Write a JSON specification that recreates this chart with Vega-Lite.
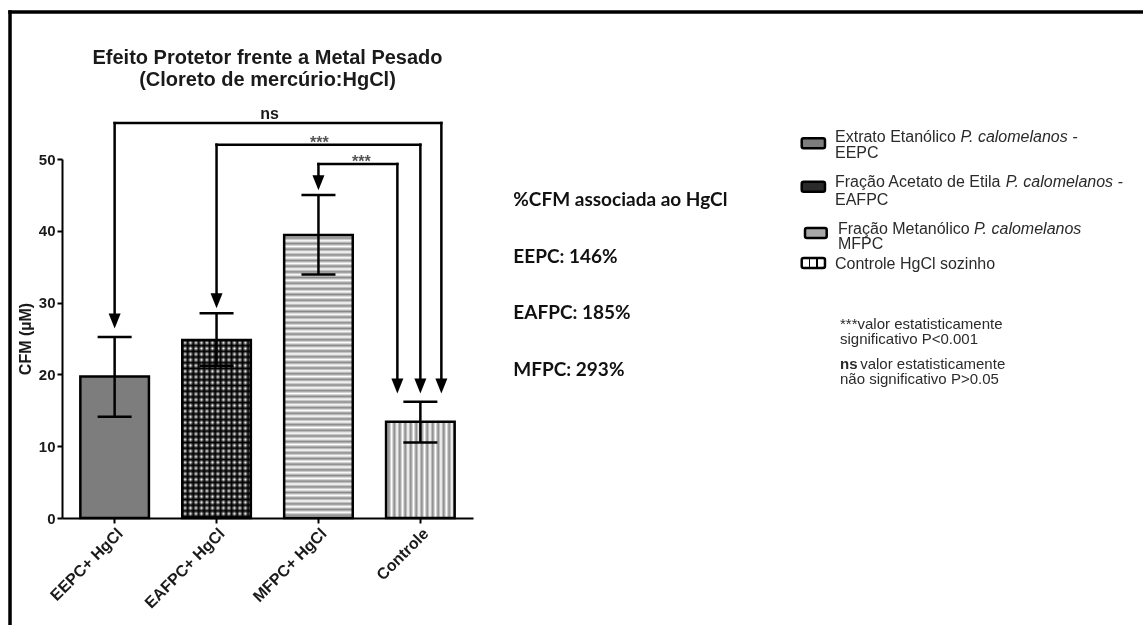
{
"$schema":"https://vega.github.io/schema/vega-lite/v6.json",
"width":411,"height":359,
"autosize":{"type":"none"},
"padding":{"left":62,"top":159,"right":670,"bottom":107},
"background":"white",
"datasets":{
 "bars":[
  {"group":"EEPC+ HgCl","mean":19.7,"lo":14.1,"hi":25.2},
  {"group":"EAFPC+ HgCl","mean":24.8,"lo":21.2,"hi":28.5},
  {"group":"MFPC+ HgCl","mean":39.4,"lo":33.9,"hi":45.0},
  {"group":"Controle","mean":13.4,"lo":10.5,"hi":16.2}
 ],
 "brackets":[
  {"cmp":"ns","label":"ns","from":"EEPC+ HgCl","to":"Controle","labelAt":"EAFPC+ HgCl","level":55.0,"fromArrow":27.45,"toArrow":18.4,"slot":"right"},
  {"cmp":"a","label":"***","from":"EAFPC+ HgCl","to":"Controle","labelAt":"MFPC+ HgCl","level":52.0,"fromArrow":30.25,"toArrow":18.4,"slot":"center"},
  {"cmp":"b","label":"***","from":"MFPC+ HgCl","to":"Controle","labelAt":"MFPC+ HgCl","level":49.3,"fromArrow":46.7,"toArrow":18.4,"slot":"left"}
 ]
},
"layer":[
 {"layer":[
  {"data":{"name":"bars"},"transform":[{"filter":"datum.group === 'EEPC+ HgCl'"}],
   "mark":{"type":"bar","fill":"#7d7d7d","stroke":"black","strokeWidth":2.5},
   "encoding":{
    "x":{"field":"group","type":"nominal","scale":{"domain":["EEPC+ HgCl","EAFPC+ HgCl","MFPC+ HgCl","Controle"]},"title":null,
         "axis":{"title":null,"labelAngle":-45,"labelFont":"Liberation Sans","labelFontSize":16,"labelFontWeight":"bold","labelColor":"#1a1a1a","tickSize":5,"tickWidth":2,"tickColor":"black","domainColor":"black","domainWidth":2,"labelPadding":2}},
    "y":{"field":"mean","type":"quantitative","scale":{"domain":[0,50],"nice":false},"title":"CFM (µM)",
         "axis":{"title":"CFM (µM)","values":[0,10,20,30,40,50],"titleFont":"Liberation Sans","titleFontSize":16,"titleFontWeight":"bold","titleColor":"#1a1a1a","titlePadding":5,"labelFont":"Liberation Sans","labelFontSize":15,"labelFontWeight":"bold","labelColor":"#1a1a1a","tickSize":5,"tickWidth":2,"tickColor":"black","domainColor":"black","domainWidth":2,"labelPadding":2,"grid":false}}
   }},
  {"data":{"name":"bars"},"transform":[{"filter":"datum.group === 'EAFPC+ HgCl'"}],
   "mark":{"type":"bar","fill":{"gradient":"linear","x1":0,"y1":0,"x2":0,"y2":1,"stops":[{"offset":0,"color":"#000"},{"offset":0.016,"color":"#fff"},{"offset":0.032,"color":"#000"},{"offset":0.048,"color":"#fff"},{"offset":0.064,"color":"#000"},{"offset":0.08,"color":"#fff"},{"offset":0.096,"color":"#000"},{"offset":0.112,"color":"#fff"},{"offset":0.128,"color":"#000"},{"offset":0.144,"color":"#fff"},{"offset":0.16,"color":"#000"},{"offset":0.176,"color":"#fff"},{"offset":0.192,"color":"#000"},{"offset":0.208,"color":"#fff"},{"offset":0.224,"color":"#000"},{"offset":0.24,"color":"#fff"},{"offset":0.256,"color":"#000"},{"offset":0.272,"color":"#fff"},{"offset":0.288,"color":"#000"},{"offset":0.304,"color":"#fff"},{"offset":0.32,"color":"#000"},{"offset":0.336,"color":"#fff"},{"offset":0.352,"color":"#000"},{"offset":0.368,"color":"#fff"},{"offset":0.384,"color":"#000"},{"offset":0.4,"color":"#fff"},{"offset":0.416,"color":"#000"},{"offset":0.432,"color":"#fff"},{"offset":0.448,"color":"#000"},{"offset":0.464,"color":"#fff"},{"offset":0.48,"color":"#000"},{"offset":0.496,"color":"#fff"},{"offset":0.512,"color":"#000"},{"offset":0.528,"color":"#fff"},{"offset":0.544,"color":"#000"},{"offset":0.56,"color":"#fff"},{"offset":0.576,"color":"#000"},{"offset":0.592,"color":"#fff"},{"offset":0.608,"color":"#000"},{"offset":0.624,"color":"#fff"},{"offset":0.64,"color":"#000"},{"offset":0.656,"color":"#fff"},{"offset":0.672,"color":"#000"},{"offset":0.688,"color":"#fff"},{"offset":0.704,"color":"#000"},{"offset":0.72,"color":"#fff"},{"offset":0.736,"color":"#000"},{"offset":0.752,"color":"#fff"},{"offset":0.768,"color":"#000"},{"offset":0.784,"color":"#fff"},{"offset":0.8,"color":"#000"},{"offset":0.816,"color":"#fff"},{"offset":0.832,"color":"#000"},{"offset":0.848,"color":"#fff"},{"offset":0.864,"color":"#000"},{"offset":0.88,"color":"#fff"},{"offset":0.896,"color":"#000"},{"offset":0.912,"color":"#fff"},{"offset":0.928,"color":"#000"},{"offset":0.944,"color":"#fff"},{"offset":0.96,"color":"#000"},{"offset":0.976,"color":"#fff"},{"offset":0.992,"color":"#000"},{"offset":1,"color":"#fff"}]}},
   "encoding":{
    "x":{"field":"group","type":"nominal","scale":{"domain":["EEPC+ HgCl","EAFPC+ HgCl","MFPC+ HgCl","Controle"]},"title":null},
    "y":{"field":"mean","type":"quantitative","scale":{"domain":[0,50],"nice":false}}
   }},
  {"data":{"name":"bars"},"transform":[{"filter":"datum.group === 'EAFPC+ HgCl'"}],
   "mark":{"type":"bar","blend":"multiply","stroke":"black","strokeWidth":2.5,"fill":{"gradient":"linear","x1":0,"y1":0,"x2":1,"y2":0,"stops":[{"offset":0,"color":"#000"},{"offset":0.04,"color":"#fff"},{"offset":0.08,"color":"#000"},{"offset":0.12,"color":"#fff"},{"offset":0.16,"color":"#000"},{"offset":0.2,"color":"#fff"},{"offset":0.24,"color":"#000"},{"offset":0.28,"color":"#fff"},{"offset":0.32,"color":"#000"},{"offset":0.36,"color":"#fff"},{"offset":0.4,"color":"#000"},{"offset":0.44,"color":"#fff"},{"offset":0.48,"color":"#000"},{"offset":0.52,"color":"#fff"},{"offset":0.56,"color":"#000"},{"offset":0.6,"color":"#fff"},{"offset":0.64,"color":"#000"},{"offset":0.68,"color":"#fff"},{"offset":0.72,"color":"#000"},{"offset":0.76,"color":"#fff"},{"offset":0.8,"color":"#000"},{"offset":0.84,"color":"#fff"},{"offset":0.88,"color":"#000"},{"offset":0.92,"color":"#fff"},{"offset":0.96,"color":"#000"},{"offset":1,"color":"#fff"}]}},
   "encoding":{
    "x":{"field":"group","type":"nominal","scale":{"domain":["EEPC+ HgCl","EAFPC+ HgCl","MFPC+ HgCl","Controle"]},"title":null},
    "y":{"field":"mean","type":"quantitative","scale":{"domain":[0,50],"nice":false}}
   }},
  {"data":{"name":"bars"},"transform":[{"filter":"datum.group === 'MFPC+ HgCl'"}],
   "mark":{"type":"bar","stroke":"black","strokeWidth":2.5,"fill":{"gradient":"linear","x1":0,"y1":0,"x2":0,"y2":1,"stops":[{"offset":0,"color":"#fff"},{"offset":0.01,"color":"#888"},{"offset":0.02,"color":"#fff"},{"offset":0.03,"color":"#888"},{"offset":0.04,"color":"#fff"},{"offset":0.05,"color":"#888"},{"offset":0.06,"color":"#fff"},{"offset":0.07,"color":"#888"},{"offset":0.08,"color":"#fff"},{"offset":0.09,"color":"#888"},{"offset":0.1,"color":"#fff"},{"offset":0.11,"color":"#888"},{"offset":0.12,"color":"#fff"},{"offset":0.13,"color":"#888"},{"offset":0.14,"color":"#fff"},{"offset":0.15,"color":"#888"},{"offset":0.16,"color":"#fff"},{"offset":0.17,"color":"#888"},{"offset":0.18,"color":"#fff"},{"offset":0.19,"color":"#888"},{"offset":0.2,"color":"#fff"},{"offset":0.21,"color":"#888"},{"offset":0.22,"color":"#fff"},{"offset":0.23,"color":"#888"},{"offset":0.24,"color":"#fff"},{"offset":0.25,"color":"#888"},{"offset":0.26,"color":"#fff"},{"offset":0.27,"color":"#888"},{"offset":0.28,"color":"#fff"},{"offset":0.29,"color":"#888"},{"offset":0.3,"color":"#fff"},{"offset":0.31,"color":"#888"},{"offset":0.32,"color":"#fff"},{"offset":0.33,"color":"#888"},{"offset":0.34,"color":"#fff"},{"offset":0.35,"color":"#888"},{"offset":0.36,"color":"#fff"},{"offset":0.37,"color":"#888"},{"offset":0.38,"color":"#fff"},{"offset":0.39,"color":"#888"},{"offset":0.4,"color":"#fff"},{"offset":0.41,"color":"#888"},{"offset":0.42,"color":"#fff"},{"offset":0.43,"color":"#888"},{"offset":0.44,"color":"#fff"},{"offset":0.45,"color":"#888"},{"offset":0.46,"color":"#fff"},{"offset":0.47,"color":"#888"},{"offset":0.48,"color":"#fff"},{"offset":0.49,"color":"#888"},{"offset":0.5,"color":"#fff"},{"offset":0.51,"color":"#888"},{"offset":0.52,"color":"#fff"},{"offset":0.53,"color":"#888"},{"offset":0.54,"color":"#fff"},{"offset":0.55,"color":"#888"},{"offset":0.56,"color":"#fff"},{"offset":0.57,"color":"#888"},{"offset":0.58,"color":"#fff"},{"offset":0.59,"color":"#888"},{"offset":0.6,"color":"#fff"},{"offset":0.61,"color":"#888"},{"offset":0.62,"color":"#fff"},{"offset":0.63,"color":"#888"},{"offset":0.64,"color":"#fff"},{"offset":0.65,"color":"#888"},{"offset":0.66,"color":"#fff"},{"offset":0.67,"color":"#888"},{"offset":0.68,"color":"#fff"},{"offset":0.69,"color":"#888"},{"offset":0.7,"color":"#fff"},{"offset":0.71,"color":"#888"},{"offset":0.72,"color":"#fff"},{"offset":0.73,"color":"#888"},{"offset":0.74,"color":"#fff"},{"offset":0.75,"color":"#888"},{"offset":0.76,"color":"#fff"},{"offset":0.77,"color":"#888"},{"offset":0.78,"color":"#fff"},{"offset":0.79,"color":"#888"},{"offset":0.8,"color":"#fff"},{"offset":0.81,"color":"#888"},{"offset":0.82,"color":"#fff"},{"offset":0.83,"color":"#888"},{"offset":0.84,"color":"#fff"},{"offset":0.85,"color":"#888"},{"offset":0.86,"color":"#fff"},{"offset":0.87,"color":"#888"},{"offset":0.88,"color":"#fff"},{"offset":0.89,"color":"#888"},{"offset":0.9,"color":"#fff"},{"offset":0.91,"color":"#888"},{"offset":0.92,"color":"#fff"},{"offset":0.93,"color":"#888"},{"offset":0.94,"color":"#fff"},{"offset":0.95,"color":"#888"},{"offset":0.96,"color":"#fff"},{"offset":0.97,"color":"#888"},{"offset":0.98,"color":"#fff"},{"offset":0.99,"color":"#888"},{"offset":1,"color":"#fff"}]}},
   "encoding":{
    "x":{"field":"group","type":"nominal","scale":{"domain":["EEPC+ HgCl","EAFPC+ HgCl","MFPC+ HgCl","Controle"]},"title":null},
    "y":{"field":"mean","type":"quantitative","scale":{"domain":[0,50],"nice":false}}
   }},
  {"data":{"name":"bars"},"transform":[{"filter":"datum.group === 'Controle'"}],
   "mark":{"type":"bar","stroke":"black","strokeWidth":2.5,"fill":{"gradient":"linear","x1":0,"y1":0,"x2":1,"y2":0,"stops":[{"offset":0,"color":"#fff"},{"offset":0.04,"color":"#888"},{"offset":0.08,"color":"#fff"},{"offset":0.12,"color":"#888"},{"offset":0.16,"color":"#fff"},{"offset":0.2,"color":"#888"},{"offset":0.24,"color":"#fff"},{"offset":0.28,"color":"#888"},{"offset":0.32,"color":"#fff"},{"offset":0.36,"color":"#888"},{"offset":0.4,"color":"#fff"},{"offset":0.44,"color":"#888"},{"offset":0.48,"color":"#fff"},{"offset":0.52,"color":"#888"},{"offset":0.56,"color":"#fff"},{"offset":0.6,"color":"#888"},{"offset":0.64,"color":"#fff"},{"offset":0.68,"color":"#888"},{"offset":0.72,"color":"#fff"},{"offset":0.76,"color":"#888"},{"offset":0.8,"color":"#fff"},{"offset":0.84,"color":"#888"},{"offset":0.88,"color":"#fff"},{"offset":0.92,"color":"#888"},{"offset":0.96,"color":"#fff"},{"offset":1,"color":"#888"}]}},
   "encoding":{
    "x":{"field":"group","type":"nominal","scale":{"domain":["EEPC+ HgCl","EAFPC+ HgCl","MFPC+ HgCl","Controle"]},"title":null},
    "y":{"field":"mean","type":"quantitative","scale":{"domain":[0,50],"nice":false}}
   }},
  {"data":{"name":"bars"},
   "mark":{"type":"rule","color":"black","strokeWidth":2.5},
   "encoding":{
    "x":{"field":"group","type":"nominal","scale":{"domain":["EEPC+ HgCl","EAFPC+ HgCl","MFPC+ HgCl","Controle"]},"title":null},
    "y":{"field":"lo","type":"quantitative","scale":{"domain":[0,50],"nice":false}},
    "y2":{"field":"hi"}
   }},
  {"data":{"name":"bars"},
   "mark":{"type":"tick","color":"black","size":34,"thickness":2.5,"opacity":1},
   "encoding":{
    "x":{"field":"group","type":"nominal","scale":{"domain":["EEPC+ HgCl","EAFPC+ HgCl","MFPC+ HgCl","Controle"]},"title":null},
    "y":{"field":"lo","type":"quantitative","scale":{"domain":[0,50],"nice":false}}
   }},
  {"data":{"name":"bars"},
   "mark":{"type":"tick","color":"black","size":34,"thickness":2.5,"opacity":1},
   "encoding":{
    "x":{"field":"group","type":"nominal","scale":{"domain":["EEPC+ HgCl","EAFPC+ HgCl","MFPC+ HgCl","Controle"]},"title":null},
    "y":{"field":"hi","type":"quantitative","scale":{"domain":[0,50],"nice":false}}
   }},
  {"data":{"name":"brackets"},
   "mark":{"type":"rule","color":"black","strokeWidth":2.5,"strokeCap":"square"},
   "encoding":{
    "x":{"field":"from","type":"nominal","scale":{"domain":["EEPC+ HgCl","EAFPC+ HgCl","MFPC+ HgCl","Controle"]},"title":null},
    "y":{"field":"level","type":"quantitative","scale":{"domain":[0,50],"nice":false}},
    "y2":{"field":"fromArrow"}
   }},
  {"data":{"name":"brackets"},
   "mark":{"type":"point","shape":"M-0.8,-1L0.8,-1L0,1Z","size":225,"filled":true,"color":"black","opacity":1},
   "encoding":{
    "x":{"field":"from","type":"nominal","scale":{"domain":["EEPC+ HgCl","EAFPC+ HgCl","MFPC+ HgCl","Controle"]},"title":null},
    "y":{"field":"fromArrow","type":"quantitative","scale":{"domain":[0,50],"nice":false}}
   }},
  {"data":{"name":"brackets"},"transform":[{"filter":"datum.slot === 'right'"}],
   "layer":[
    {"mark":{"type":"rule","color":"black","strokeWidth":2.5,"strokeCap":"square","x2Offset":21},
     "encoding":{
      "x":{"field":"from","type":"nominal","scale":{"domain":["EEPC+ HgCl","EAFPC+ HgCl","MFPC+ HgCl","Controle"]},"title":null},
      "x2":{"field":"to"},
      "y":{"field":"level","type":"quantitative","scale":{"domain":[0,50],"nice":false}}}},
    {"mark":{"type":"rule","color":"black","strokeWidth":2.5,"strokeCap":"square","xOffset":21},
     "encoding":{
      "x":{"field":"to","type":"nominal","scale":{"domain":["EEPC+ HgCl","EAFPC+ HgCl","MFPC+ HgCl","Controle"]},"title":null},
      "y":{"field":"level","type":"quantitative","scale":{"domain":[0,50],"nice":false}},
      "y2":{"field":"toArrow"}}},
    {"mark":{"type":"point","shape":"M-0.8,-1L0.8,-1L0,1Z","size":225,"filled":true,"color":"black","opacity":1,"xOffset":21},
     "encoding":{
      "x":{"field":"to","type":"nominal","scale":{"domain":["EEPC+ HgCl","EAFPC+ HgCl","MFPC+ HgCl","Controle"]},"title":null},
      "y":{"field":"toArrow","type":"quantitative","scale":{"domain":[0,50],"nice":false}}}}
   ]},
  {"data":{"name":"brackets"},"transform":[{"filter":"datum.slot === 'center'"}],
   "layer":[
    {"mark":{"type":"rule","color":"black","strokeWidth":2.5,"strokeCap":"square"},
     "encoding":{
      "x":{"field":"from","type":"nominal","scale":{"domain":["EEPC+ HgCl","EAFPC+ HgCl","MFPC+ HgCl","Controle"]},"title":null},
      "x2":{"field":"to"},
      "y":{"field":"level","type":"quantitative","scale":{"domain":[0,50],"nice":false}}}},
    {"mark":{"type":"rule","color":"black","strokeWidth":2.5,"strokeCap":"square"},
     "encoding":{
      "x":{"field":"to","type":"nominal","scale":{"domain":["EEPC+ HgCl","EAFPC+ HgCl","MFPC+ HgCl","Controle"]},"title":null},
      "y":{"field":"level","type":"quantitative","scale":{"domain":[0,50],"nice":false}},
      "y2":{"field":"toArrow"}}},
    {"mark":{"type":"point","shape":"M-0.8,-1L0.8,-1L0,1Z","size":225,"filled":true,"color":"black","opacity":1},
     "encoding":{
      "x":{"field":"to","type":"nominal","scale":{"domain":["EEPC+ HgCl","EAFPC+ HgCl","MFPC+ HgCl","Controle"]},"title":null},
      "y":{"field":"toArrow","type":"quantitative","scale":{"domain":[0,50],"nice":false}}}}
   ]},
  {"data":{"name":"brackets"},"transform":[{"filter":"datum.slot === 'left'"}],
   "layer":[
    {"mark":{"type":"rule","color":"black","strokeWidth":2.5,"strokeCap":"square","x2Offset":-23},
     "encoding":{
      "x":{"field":"from","type":"nominal","scale":{"domain":["EEPC+ HgCl","EAFPC+ HgCl","MFPC+ HgCl","Controle"]},"title":null},
      "x2":{"field":"to"},
      "y":{"field":"level","type":"quantitative","scale":{"domain":[0,50],"nice":false}}}},
    {"mark":{"type":"rule","color":"black","strokeWidth":2.5,"strokeCap":"square","xOffset":-23},
     "encoding":{
      "x":{"field":"to","type":"nominal","scale":{"domain":["EEPC+ HgCl","EAFPC+ HgCl","MFPC+ HgCl","Controle"]},"title":null},
      "y":{"field":"level","type":"quantitative","scale":{"domain":[0,50],"nice":false}},
      "y2":{"field":"toArrow"}}},
    {"mark":{"type":"point","shape":"M-0.8,-1L0.8,-1L0,1Z","size":225,"filled":true,"color":"black","opacity":1,"xOffset":-23},
     "encoding":{
      "x":{"field":"to","type":"nominal","scale":{"domain":["EEPC+ HgCl","EAFPC+ HgCl","MFPC+ HgCl","Controle"]},"title":null},
      "y":{"field":"toArrow","type":"quantitative","scale":{"domain":[0,50],"nice":false}}}}
   ]},
  {"data":{"name":"brackets"},"transform":[{"filter":"datum.cmp === 'ns'"}],
   "mark":{"type":"text","font":"Liberation Sans","fontWeight":"bold","fontSize":16,"color":"#1a1a1a","baseline":"alphabetic","align":"center","dx":53,"dy":-4.4},
   "encoding":{
    "x":{"field":"labelAt","type":"nominal","scale":{"domain":["EEPC+ HgCl","EAFPC+ HgCl","MFPC+ HgCl","Controle"]},"title":null},
    "y":{"field":"level","type":"quantitative","scale":{"domain":[0,50],"nice":false}},
    "text":{"field":"label"}
   }},
  {"data":{"name":"brackets"},"transform":[{"filter":"datum.cmp === 'a'"}],
   "mark":{"type":"text","font":"Liberation Sans","fontWeight":"bold","fontSize":16,"color":"#555","baseline":"alphabetic","align":"center","dx":1,"dy":3},
   "encoding":{
    "x":{"field":"labelAt","type":"nominal","scale":{"domain":["EEPC+ HgCl","EAFPC+ HgCl","MFPC+ HgCl","Controle"]},"title":null},
    "y":{"field":"level","type":"quantitative","scale":{"domain":[0,50],"nice":false}},
    "text":{"field":"label"}
   }},
  {"data":{"name":"brackets"},"transform":[{"filter":"datum.cmp === 'b'"}],
   "mark":{"type":"text","font":"Liberation Sans","fontWeight":"bold","fontSize":16,"color":"#555","baseline":"alphabetic","align":"center","dx":43,"dy":3},
   "encoding":{
    "x":{"field":"labelAt","type":"nominal","scale":{"domain":["EEPC+ HgCl","EAFPC+ HgCl","MFPC+ HgCl","Controle"]},"title":null},
    "y":{"field":"level","type":"quantitative","scale":{"domain":[0,50],"nice":false}},
    "text":{"field":"label"}
   }}
 ]},
 {"data":{"values":[{}]},
  "layer":[
   {"mark":{"type":"rule","color":"black","strokeWidth":3.5,"strokeCap":"square"},
    "encoding":{
     "x":{"datum":-12.65,"type":"quantitative","scale":{"domain":[0,100]},"axis":null},
     "y":{"datum":-35,"type":"quantitative","scale":{"domain":[0,100]},"axis":null},
     "y2":{"datum":140.95}}},
   {"mark":{"type":"rule","color":"black","strokeWidth":3.5,"strokeCap":"square"},
    "encoding":{
     "x":{"datum":-12.65,"type":"quantitative","scale":{"domain":[0,100]},"axis":null},
     "x2":{"datum":268},
     "y":{"datum":140.95,"type":"quantitative","scale":{"domain":[0,100]},"axis":null}}},
   {"encoding":{"x":{"datum":50,"type":"quantitative","scale":{"domain":[0,100]},"axis":null}},
    "layer":[
     {"mark":{"type":"text","text":"Efeito Protetor frente a Metal Pesado","font":"Liberation Sans","fontWeight":"bold","fontSize":20,"align":"center","baseline":"alphabetic","color":"#1a1a1a"},
      "encoding":{"y":{"datum":126.46,"type":"quantitative","scale":{"domain":[0,100]},"axis":null}}},
     {"mark":{"type":"text","text":"(Cloreto de mercúrio:HgCl)","font":"Liberation Sans","fontWeight":"bold","fontSize":20,"align":"center","baseline":"alphabetic","color":"#1a1a1a"},
      "encoding":{"y":{"datum":120.33,"type":"quantitative","scale":{"domain":[0,100]},"axis":null}}}
    ]},
   {"encoding":{"x":{"datum":109.8,"type":"quantitative","scale":{"domain":[0,100]},"axis":null}},
    "layer":[
     {"mark":{"type":"text","text":"%CFM associada ao HgCl","font":"Lato","fontWeight":"bold","fontSize":19,"align":"left","baseline":"middle","color":"#111"},
      "encoding":{"y":{"datum":88.58,"type":"quantitative","scale":{"domain":[0,100]},"axis":null}}},
     {"mark":{"type":"text","text":"EEPC: 146%","font":"Lato","fontWeight":"bold","fontSize":19,"align":"left","baseline":"middle","color":"#111"},
      "encoding":{"y":{"datum":72.79,"type":"quantitative","scale":{"domain":[0,100]},"axis":null}}},
     {"mark":{"type":"text","text":"EAFPC: 185%","font":"Lato","fontWeight":"bold","fontSize":19,"align":"left","baseline":"middle","color":"#111"},
      "encoding":{"y":{"datum":57.02,"type":"quantitative","scale":{"domain":[0,100]},"axis":null}}},
     {"mark":{"type":"text","text":"MFPC: 293%","font":"Lato","fontWeight":"bold","fontSize":19,"align":"left","baseline":"middle","color":"#111"},
      "encoding":{"y":{"datum":41.23,"type":"quantitative","scale":{"domain":[0,100]},"axis":null}}}
    ]},
   {"mark":{"type":"rect","fill":"#7d7d7d","stroke":"black","strokeWidth":2.5,"cornerRadius":2},
    "encoding":{
     "x":{"datum":179.98,"type":"quantitative","scale":{"domain":[0,100]},"axis":null},"x2":{"datum":185.64},
     "y":{"datum":105.77,"type":"quantitative","scale":{"domain":[0,100]},"axis":null},"y2":{"datum":102.98}}},
   {"mark":{"type":"rect","fill":"#2a2a2a","stroke":"black","strokeWidth":2.5,"cornerRadius":2},
    "encoding":{
     "x":{"datum":179.98,"type":"quantitative","scale":{"domain":[0,100]},"axis":null},"x2":{"datum":185.64},
     "y":{"datum":93.68,"type":"quantitative","scale":{"domain":[0,100]},"axis":null},"y2":{"datum":90.89}}},
   {"mark":{"type":"rect","fill":"#a8a8a8","stroke":"black","strokeWidth":2.5,"cornerRadius":2},
    "encoding":{
     "x":{"datum":180.78,"type":"quantitative","scale":{"domain":[0,100]},"axis":null},"x2":{"datum":186.06},
     "y":{"datum":80.78,"type":"quantitative","scale":{"domain":[0,100]},"axis":null},"y2":{"datum":77.99}}},
   {"mark":{"type":"rect","stroke":"black","strokeWidth":2.5,"cornerRadius":2,"fill":{"gradient":"linear","x1":0,"y1":0,"x2":1,"y2":0,"stops":[{"offset":0,"color":"#fff"},{"offset":0.3,"color":"#fff"},{"offset":0.3,"color":"#000"},{"offset":0.37,"color":"#000"},{"offset":0.37,"color":"#fff"},{"offset":0.63,"color":"#fff"},{"offset":0.63,"color":"#000"},{"offset":0.7,"color":"#000"},{"offset":0.7,"color":"#fff"},{"offset":1,"color":"#fff"}]}},
    "encoding":{
     "x":{"datum":179.98,"type":"quantitative","scale":{"domain":[0,100]},"axis":null},"x2":{"datum":185.64},
     "y":{"datum":72.42,"type":"quantitative","scale":{"domain":[0,100]},"axis":null},"y2":{"datum":69.64}}},
   {"encoding":{"x":{"datum":188.08,"type":"quantitative","scale":{"domain":[0,100]},"axis":null}},
    "layer":[
     {"mark":{"type":"text","text":"Extrato Etanólico","font":"Liberation Sans","fontSize":16,"align":"left","baseline":"alphabetic","color":"#2a2a2a"},
      "encoding":{"y":{"datum":104.82,"type":"quantitative","scale":{"domain":[0,100]},"axis":null}}},
     {"mark":{"type":"text","text":"EEPC","font":"Liberation Sans","fontSize":16,"align":"left","baseline":"alphabetic","color":"#2a2a2a"},
      "encoding":{"y":{"datum":100.2,"type":"quantitative","scale":{"domain":[0,100]},"axis":null}}},
     {"mark":{"type":"text","text":"Fração Acetato de Etila","font":"Liberation Sans","fontSize":16,"align":"left","baseline":"alphabetic","color":"#2a2a2a"},
      "encoding":{"y":{"datum":92.12,"type":"quantitative","scale":{"domain":[0,100]},"axis":null}}},
     {"mark":{"type":"text","text":"EAFPC","font":"Liberation Sans","fontSize":16,"align":"left","baseline":"alphabetic","color":"#2a2a2a"},
      "encoding":{"y":{"datum":87.19,"type":"quantitative","scale":{"domain":[0,100]},"axis":null}}},
     {"mark":{"type":"text","text":"Controle  HgCl sozinho","font":"Liberation Sans","fontSize":16,"align":"left","baseline":"alphabetic","color":"#2a2a2a"},
      "encoding":{"y":{"datum":69.36,"type":"quantitative","scale":{"domain":[0,100]},"axis":null}}}
    ]},
   {"encoding":{"x":{"datum":188.81,"type":"quantitative","scale":{"domain":[0,100]},"axis":null}},
    "layer":[
     {"mark":{"type":"text","text":"Fração Metanólico","font":"Liberation Sans","fontSize":16,"align":"left","baseline":"alphabetic","color":"#2a2a2a"},
      "encoding":{"y":{"datum":79.11,"type":"quantitative","scale":{"domain":[0,100]},"axis":null}}},
     {"mark":{"type":"text","text":"MFPC","font":"Liberation Sans","fontSize":16,"align":"left","baseline":"alphabetic","color":"#2a2a2a"},
      "encoding":{"y":{"datum":74.85,"type":"quantitative","scale":{"domain":[0,100]},"axis":null}}}
    ]},
   {"mark":{"type":"text","text":"P. calomelanos -","font":"Liberation Sans","fontStyle":"italic","fontSize":16,"align":"left","baseline":"alphabetic","color":"#2a2a2a"},
    "encoding":{"x":{"datum":218.59,"type":"quantitative","scale":{"domain":[0,100]},"axis":null},
                "y":{"datum":104.82,"type":"quantitative","scale":{"domain":[0,100]},"axis":null}}},
   {"mark":{"type":"text","text":"P. calomelanos -","font":"Liberation Sans","fontStyle":"italic","fontSize":16,"align":"left","baseline":"alphabetic","color":"#2a2a2a"},
    "encoding":{"x":{"datum":229.63,"type":"quantitative","scale":{"domain":[0,100]},"axis":null},
                "y":{"datum":92.12,"type":"quantitative","scale":{"domain":[0,100]},"axis":null}}},
   {"mark":{"type":"text","text":"P. calomelanos","font":"Liberation Sans","fontStyle":"italic","fontSize":16,"align":"left","baseline":"alphabetic","color":"#2a2a2a"},
    "encoding":{"x":{"datum":221.9,"type":"quantitative","scale":{"domain":[0,100]},"axis":null},
                "y":{"datum":79.11,"type":"quantitative","scale":{"domain":[0,100]},"axis":null}}},
   {"encoding":{"x":{"datum":189.29,"type":"quantitative","scale":{"domain":[0,100]},"axis":null}},
    "layer":[
     {"mark":{"type":"text","text":"***valor estatisticamente","font":"Liberation Sans","fontSize":15,"align":"left","baseline":"alphabetic","color":"#2a2a2a"},
      "encoding":{"y":{"datum":52.65,"type":"quantitative","scale":{"domain":[0,100]},"axis":null}}},
     {"mark":{"type":"text","text":"significativo P<0.001","font":"Liberation Sans","fontSize":15,"align":"left","baseline":"alphabetic","color":"#2a2a2a"},
      "encoding":{"y":{"datum":48.47,"type":"quantitative","scale":{"domain":[0,100]},"axis":null}}},
     {"mark":{"type":"text","text":"ns","font":"Liberation Sans","fontWeight":"bold","fontSize":15,"align":"left","baseline":"alphabetic","color":"#2a2a2a"},
      "encoding":{"y":{"datum":41.5,"type":"quantitative","scale":{"domain":[0,100]},"axis":null}}},
     {"mark":{"type":"text","text":"não significativo P>0.05","font":"Liberation Sans","fontSize":15,"align":"left","baseline":"alphabetic","color":"#2a2a2a"},
      "encoding":{"y":{"datum":37.32,"type":"quantitative","scale":{"domain":[0,100]},"axis":null}}}
    ]},
   {"mark":{"type":"text","text":"valor estatisticamente","font":"Liberation Sans","fontSize":15,"align":"left","baseline":"alphabetic","color":"#2a2a2a"},
    "encoding":{"x":{"datum":194.2,"type":"quantitative","scale":{"domain":[0,100]},"axis":null},
                "y":{"datum":41.5,"type":"quantitative","scale":{"domain":[0,100]},"axis":null}}}
  ]}
],
"resolve":{"scale":{"x":"independent","y":"independent"}},
"config":{"view":{"stroke":null},"font":"Liberation Sans","axis":{"grid":false},"scale":{"bandPaddingInner":0.327,"bandPaddingOuter":0.18}}
}
